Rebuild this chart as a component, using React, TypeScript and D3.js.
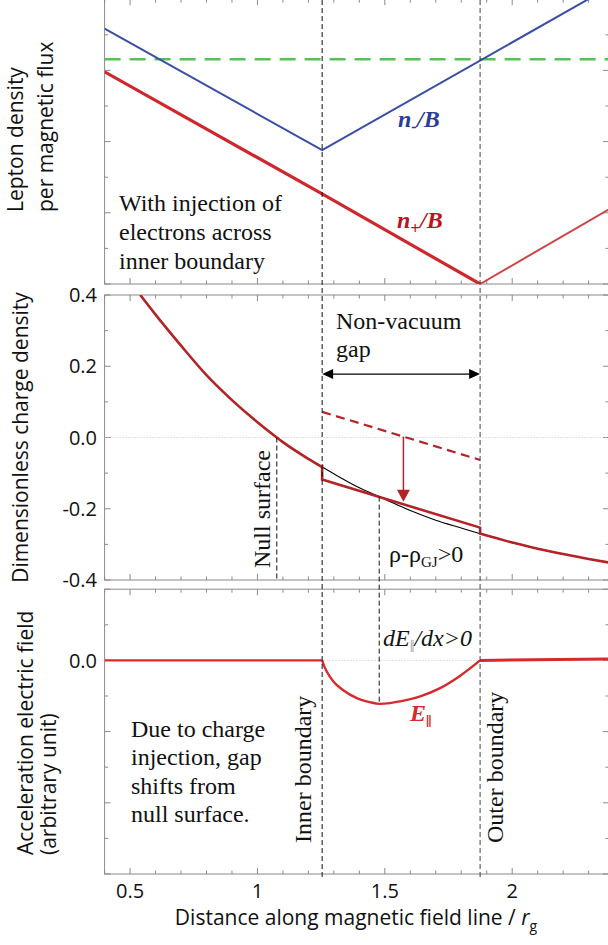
import React from "react";
import * as d3 from "d3";

const WIDTH = 608;
const HEIGHT = 945;

// Positions along the field line (units of r_g)
const innerBoundary = 1.254;
const outerBoundary = 1.874;
const nullSurface = 1.076;
const crossPoint = 1.478;

// Axis ticks
const xTickValues = [0.5, 1, 1.5, 2];
const xTickLabels = ["0.5", "1", "1.5", "2"];
const chargeTickValues = [-0.4, -0.2, 0, 0.2, 0.4];
const chargeTickLabels = ["-0.4", "-0.2", "0.0", "0.2", "0.4"];
const fieldTickValues = [0];
const fieldTickLabels = ["0.0"];

// Top panel: lepton densities per magnetic flux (arbitrary units)
const electronX = [0.4, 1.254, 2.38];
const electronY = [0.717, 0.376, 0.833];
const positronInX = [0.4, 1.254, 1.874];
const positronInY = [0.596, 0.253, 0.0];
const positronOutX = [1.874, 2.38];
const positronOutY = [0.0, 0.21];
const gjFluxLevel = 0.631;

// Middle panel: Goldreich-Julian charge density
const rhoGJX = [0.54, 0.6, 0.7, 0.8, 0.9, 1.0, 1.076, 1.1, 1.2, 1.254, 1.3, 1.4, 1.478, 1.5, 1.6, 1.7, 1.8, 1.874, 1.9, 2.0, 2.1, 2.2, 2.3, 2.38];
const rhoGJY = [0.4, 0.345, 0.258, 0.175, 0.105, 0.043, 0.0, -0.013, -0.06, -0.083, -0.102, -0.141, -0.166, -0.173, -0.205, -0.232, -0.254, -0.27, -0.275, -0.295, -0.312, -0.327, -0.341, -0.351];
// actual charge density inside the gap
const rhoGapX = [1.254, 1.874];
const rhoGapY = [-0.118, -0.253];
// charge density without injection (dashed)
const rhoVacX = [1.254, 1.874];
const rhoVacY = [0.072, -0.063];
const shiftArrowX = 1.573;
const shiftArrowTo = -0.18;
const gapArrowLevel = 0.178;

// Bottom panel: accelerating electric field
const eGapX = [1.254, 1.262, 1.272, 1.298, 1.337, 1.39, 1.44, 1.478, 1.52, 1.56, 1.639, 1.717, 1.796, 1.874];
const eGapY = [0.0, -0.016, -0.031, -0.059, -0.084, -0.106, -0.117, -0.122, -0.12, -0.115, -0.101, -0.078, -0.043, 0.0];
const eLeftX = [0.4, 1.254];
const eLeftY = [0.0, 0.0];
const eRightX = [1.874, 2.38];
const eRightY = [0.0, 0.004];

const SERIF = "'Liberation Serif', 'Times New Roman', serif";
const SANS = "'Open Sans', 'Noto Sans', sans-serif";

const FRAME = "#8a8a8a";
const BLUE = "#3a4ea6";
const GREEN = "#55c255";
const RED_TOP = "#d0262e";
const RED_TOP_LIGHT = "#cc4646";
const RED_MID = "#b42328";
const RED_E = "#d62a2c";

const x = d3.scaleLinear().domain([0.4, 2.38]).range([104.6, 609]);
const yTop = d3.scaleLinear().domain([0, 0.8]).range([284, -0.8]);
const yMid = d3.scaleLinear().domain([-0.4, 0.4]).range([580, 295]);
const yBot = d3.scaleLinear().domain([-0.6, 0.2]).range([874, 589.2]);

const zip = (xs: number[], ys: number[]) => xs.map((v, i) => [v, ys[i]] as [number, number]);

function Frame({ y, id }: { y: d3.ScaleLinear<number, number>; id: string }) {
  const [x0, x1] = x.range();
  const [yb, yt] = y.range();
  const xMinor = d3.range(4, 24).map((k) => k / 10);
  const [d0, d1] = y.domain();
  const yMinor = d3.range(Math.round(d0 * 10), Math.round(d1 * 10) + 1).map((k) => k / 10);
  const isMajorX = (v: number) => Math.abs(v * 2 - Math.round(v * 2)) < 1e-6;
  const isMajorY = (v: number) => Math.abs(v * 5 - Math.round(v * 5)) < 1e-6;
  return (
    <g stroke={FRAME} strokeWidth={1} fill="none">
      <clipPath id={id}>
        <rect x={x0} y={yt} width={x1 - x0} height={yb - yt} />
      </clipPath>
      <rect x={x0} y={yt} width={x1 - x0} height={yb - yt} />
      {xMinor.map((v) => {
        const len = isMajorX(v) ? 6 : 3.5;
        return (
          <g key={"x" + v}>
            <line x1={x(v)} x2={x(v)} y1={yb} y2={yb - len} />
            <line x1={x(v)} x2={x(v)} y1={yt} y2={yt + len} />
          </g>
        );
      })}
      {yMinor.map((v) => {
        const len = isMajorY(v) ? 6 : 3.5;
        return (
          <g key={"y" + v}>
            <line x1={x0} x2={x0 + len} y1={y(v)} y2={y(v)} />
            <line x1={x1} x2={x1 - len} y1={y(v)} y2={y(v)} />
          </g>
        );
      })}
    </g>
  );
}

export default function App() {
  const lineTop = d3.line<[number, number]>().x((d) => x(d[0])).y((d) => yTop(d[1]));
  const lineMid = d3.line<[number, number]>().x((d) => x(d[0])).y((d) => yMid(d[1]));
  const curveMid = d3.line<[number, number]>().x((d) => x(d[0])).y((d) => yMid(d[1])).curve(d3.curveMonotoneX);
  const lineBot = d3.line<[number, number]>().x((d) => x(d[0])).y((d) => yBot(d[1]));
  const curveBot = d3.line<[number, number]>().x((d) => x(d[0])).y((d) => yBot(d[1])).curve(d3.curveMonotoneX);

  const rhoGJ = zip(rhoGJX, rhoGJY);
  const rhoAt = (v: number) => d3.scaleLinear().domain(rhoGJX).range(rhoGJY)(v);
  const leftPts = rhoGJ.filter((p) => p[0] <= innerBoundary + 1e-9);
  const rightPts = rhoGJ.filter((p) => p[0] >= outerBoundary - 1e-9);
  const gapPts: [number, number][] = [
    [innerBoundary, rhoAt(innerBoundary)],
    ...zip(rhoGapX, rhoGapY),
    [outerBoundary, rhoAt(outerBoundary)],
  ];
  const rhoPath =
    (curveMid(leftPts) || "") +
    gapPts.map((p) => `L${x(p[0])},${yMid(p[1])}`).join("") +
    (curveMid(rightPts) || "").replace(/^M/, "L");

  const vacAt = d3.scaleLinear().domain(rhoVacX).range(rhoVacY);
  const arrowTopY = yMid(vacAt(shiftArrowX));
  const arrowTipY = yMid(shiftArrowTo);
  const ax = x(shiftArrowX);

  const gY = yMid(gapArrowLevel);
  const gx0 = x(innerBoundary);
  const gx1 = x(outerBoundary);

  const eMinY = yBot(d3.min(eGapY) as number);

  return (
    <svg
      width={WIDTH}
      height={HEIGHT}
      viewBox={`0 0 ${WIDTH} ${HEIGHT}`}
      style={{ position: "absolute", left: 0, top: 0, background: "#fff" }}
    >
      <rect width={WIDTH} height={HEIGHT} fill="#fff" />
      <Frame y={yTop} id="clipTop" />
      <Frame y={yMid} id="clipMid" />
      <Frame y={yBot} id="clipBot" />

      {/* Top panel */}
      <g clipPath="url(#clipTop)" fill="none">
        <line x1={x(0.4)} x2={x(2.38)} y1={yTop(gjFluxLevel)} y2={yTop(gjFluxLevel)} stroke={GREEN} strokeWidth={2.5} strokeDasharray="16,9" />
        <path d={lineTop(zip(electronX, electronY)) || ""} stroke={BLUE} strokeWidth={2} />
        <path d={lineTop(zip(positronOutX, positronOutY)) || ""} stroke={RED_TOP_LIGHT} strokeWidth={2} />
        <path d={lineTop(zip(positronInX, positronInY)) || ""} stroke={RED_TOP} strokeWidth={3.2} strokeLinejoin="round" />
      </g>
      <text x={398} y={127} fontFamily={SERIF} fontSize={24} fontWeight="bold" fontStyle="italic" fill="#2c3c98">
        n<tspan fontSize={17} dy={5}>-</tspan><tspan dy={-5}>/B</tspan>
      </text>
      <text x={397} y={228} fontFamily={SERIF} fontSize={24} fontWeight="bold" fontStyle="italic" fill="#b8161c">
        n<tspan fontSize={17} dy={6}>+</tspan><tspan dy={-6}>/B</tspan>
      </text>
      <g fontFamily={SERIF} fontSize={24} fill="#111">
        <text x={119} y={211}>With injection of</text>
        <text x={119} y={240}>electrons across</text>
        <text x={119} y={268.5}>inner boundary</text>
      </g>

      {/* Middle panel */}
      <line x1={x(0.4)} x2={x(2.38)} y1={yMid(0)} y2={yMid(0)} stroke="#c4c4c4" strokeWidth={1} strokeDasharray="1,2" />
      <g clipPath="url(#clipMid)" fill="none">
        <path d={curveMid(rhoGJ) || ""} stroke="#000" strokeWidth={1.1} />
        <path d={rhoPath} stroke={RED_MID} strokeWidth={2.6} strokeLinejoin="miter" />
        <path d={lineMid(zip(rhoVacX, rhoVacY)) || ""} stroke={RED_MID} strokeWidth={2.2} strokeDasharray="9,5.5" />
      </g>
      <line x1={ax} x2={ax} y1={arrowTopY} y2={arrowTipY - 10} stroke={RED_MID} strokeWidth={1.5} />
      <polygon points={`${ax - 6.5},${arrowTipY - 12} ${ax + 6.5},${arrowTipY - 12} ${ax},${arrowTipY}`} fill={RED_MID} />
      <line x1={gx0 + 8} x2={gx1 - 8} y1={gY} y2={gY} stroke="#000" strokeWidth={1.3} />
      <polygon points={`${gx0},${gY} ${gx0 + 11},${gY - 5} ${gx0 + 11},${gY + 5}`} fill="#000" />
      <polygon points={`${gx1},${gY} ${gx1 - 11},${gY - 5} ${gx1 - 11},${gY + 5}`} fill="#000" />
      <g fontFamily={SERIF} fontSize={24} fill="#111">
        <text x={336} y={329}>Non-vacuum</text>
        <text x={336} y={357}>gap</text>
        <text transform={`translate(270,568) rotate(-90)`}>Null surface</text>
        <text x={389} y={562}>
          ρ-ρ<tspan fontSize={15} dy={5}>GJ</tspan><tspan dy={-5}>&gt;0</tspan>
        </text>
      </g>

      {/* Bottom panel */}
      <line x1={x(0.4)} x2={x(2.38)} y1={yBot(0)} y2={yBot(0)} stroke="#c4c4c4" strokeWidth={1} strokeDasharray="1,2" />
      <g clipPath="url(#clipBot)" fill="none" stroke={RED_E}>
        <path d={lineBot(zip(eLeftX, eLeftY)) || ""} strokeWidth={2.4} />
        <path d={curveBot(zip(eGapX, eGapY)) || ""} strokeWidth={2.4} />
        <path d={lineBot(zip(eRightX, eRightY)) || ""} strokeWidth={3} />
      </g>
      <g fontFamily={SERIF} fontSize={24} fill="#111">
        <text x={383} y={646} fontStyle="italic">
          dE<tspan fill="#9a9a9a" fontStyle="normal" fontSize={17} dy={6}>‖</tspan><tspan dy={-6}>/dx&gt;0</tspan>
        </text>
        <text x={410} y={721} fontStyle="italic" fontWeight="bold" fill={RED_E}>
          E<tspan fontStyle="normal" fontSize={17} dy={6}>‖</tspan>
        </text>
        <text transform={`translate(311,843) rotate(-90)`}>Inner boundary</text>
        <text transform={`translate(503,843) rotate(-90)`}>Outer boundary</text>
        <text x={131} y={737}>Due to charge</text>
        <text x={131} y={765}>injection, gap</text>
        <text x={131} y={793.5}>shifts from</text>
        <text x={131} y={822}>null surface.</text>
      </g>

      {/* Boundary markers */}
      <g stroke="#111" strokeWidth={1} strokeDasharray="5,3">
        <line x1={x(innerBoundary)} x2={x(innerBoundary)} y1={0} y2={877} />
        <line x1={x(outerBoundary)} x2={x(outerBoundary)} y1={0} y2={877} stroke="#444" />
        <line x1={x(nullSurface)} x2={x(nullSurface)} y1={yMid(0)} y2={yMid.range()[0]} />
        <line x1={x(crossPoint)} x2={x(crossPoint)} y1={yMid(rhoAt(crossPoint))} y2={eMinY} />
      </g>

      {/* Axes text */}
      <g fontFamily={SANS} fill="#111">
        {xTickValues.map((v, i) => (
          <text key={v} x={x(v)} y={898} fontSize={20} textAnchor="middle">{xTickLabels[i]}</text>
        ))}
        {chargeTickValues.map((v, i) => (
          <text key={v} x={97} y={yMid(v)} dy="0.36em" fontSize={20} textAnchor="end">{chargeTickLabels[i]}</text>
        ))}
        {fieldTickValues.map((v, i) => (
          <text key={v} x={97} y={yBot(v)} dy="0.36em" fontSize={20} textAnchor="end">{fieldTickLabels[i]}</text>
        ))}
        <text x={356} y={925} fontSize={21} textAnchor="middle">
          Distance along magnetic field line / <tspan fontStyle="italic">r</tspan><tspan fontSize={14} dy={6}>g</tspan>
        </text>
        <text transform="translate(23,212) rotate(-90)" fontSize={21}>Lepton density</text>
        <text transform="translate(53,212) rotate(-90)" fontSize={21}>per magnetic flux</text>
        <text transform={`translate(28,${yMid(0)}) rotate(-90)`} fontSize={21} textAnchor="middle">Dimensionless charge density</text>
        <text transform="translate(33,855) rotate(-90)" fontSize={21}>Acceleration electric field</text>
        <text transform="translate(56,855) rotate(-90)" fontSize={21}>(arbitrary unit)</text>
      </g>
    </svg>
  );
}
